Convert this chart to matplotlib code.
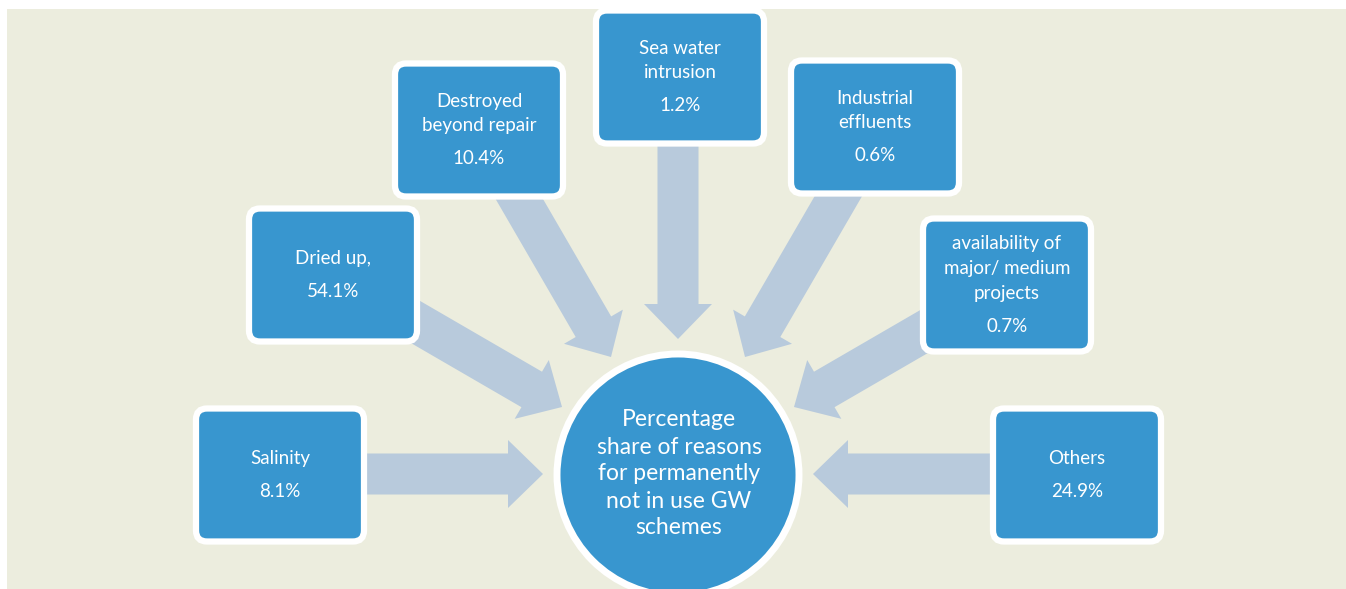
import matplotlib.pyplot as plt
from matplotlib.patches import FancyBboxPatch, FancyArrow, Circle, Rectangle

# reasons and their share (%)
labels = [
    ["Salinity"],
    ["Dried up,"],
    ["Destroyed", "beyond repair"],
    ["Sea water", "intrusion"],
    ["Industrial", "effluents"],
    ["availability of", "major/ medium", "projects"],
    ["Others"],
]
shares = ["8.1%", "54.1%", "10.4%", "1.2%", "0.6%", "0.7%", "24.9%"]
centre_lines = ["Percentage", "share of reasons", "for permanently", "not in use GW", "schemes"]

# layout in pixels (x right, y down)
box_xy = [(280, 475), (333, 275), (479, 130), (680, 77), (875, 127), (1007, 285), (1077, 475)]
box_w, box_h = 168, 133
arrows = [
    ((330, 474), (543, 474)),
    ((400, 313), (562, 407)),
    ((510, 183), (611, 357)),
    ((678, 120), (678, 339)),
    ((846, 183), (745, 357)),
    ((956, 313), (794, 407)),
    ((1026, 474), (813, 474)),
]

blue = "#3896cf"
arrow_col = "#b8cadc"
bg = "#ecedde"

plt.rcParams['font.family'] = ['Lato', 'DejaVu Sans']

fig = plt.figure(figsize=(13.46, 5.89), dpi=100)
ax = fig.add_axes([0, 0, 1, 1])
ax.set_xlim(0, 1346)
ax.set_ylim(589, 0)
ax.axis("off")

ax.add_patch(Rectangle((7, 9), 1346, 600, facecolor=bg, edgecolor="none", zorder=0))

for (x0, y0), (x1, y1) in arrows:
    ax.add_patch(FancyArrow(x0, y0, x1 - x0, y1 - y0, width=41, head_width=68,
                            head_length=35, length_includes_head=True,
                            facecolor=arrow_col, edgecolor="none", zorder=1))

for (cx, cy), lab, pct in zip(box_xy, labels, shares):
    ax.add_patch(FancyBboxPatch((cx - box_w / 2, cy - box_h / 2), box_w, box_h,
                                boxstyle="round,pad=0,rounding_size=11",
                                facecolor=blue, edgecolor="white", linewidth=4.5, zorder=2))
    n = len(lab)
    span = (n - 1) * 24.5 + 33
    y = cy - span / 2
    for line in lab:
        ax.text(cx, y, line, color="white", fontsize=13.5, ha="center", va="center", zorder=3)
        y += 24.5
    ax.text(cx, cy + span / 2, pct, color="white", fontsize=13.5, ha="center", va="center", zorder=3)

ax.add_patch(Circle((678, 475), 121, facecolor=blue, edgecolor="white", linewidth=5, zorder=2))
y = 420
for line in centre_lines:
    ax.text(679, y, line, color="white", fontsize=16.5, ha="center", va="center", zorder=3)
    y += 27

fig.savefig("out.png", dpi=100)
